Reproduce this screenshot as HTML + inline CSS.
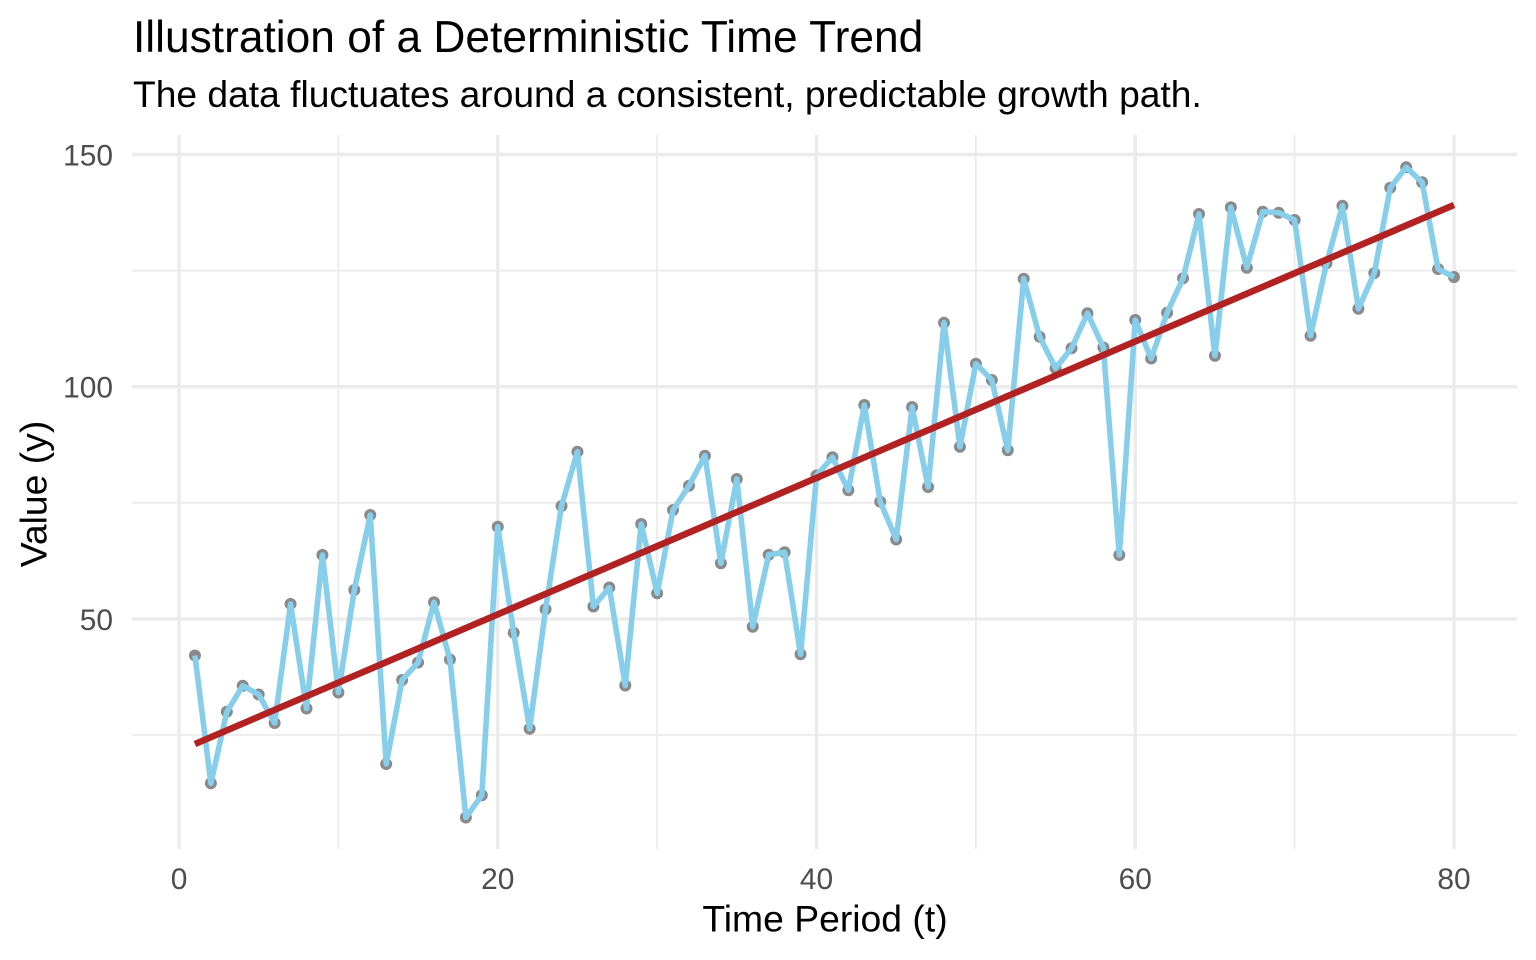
<!DOCTYPE html>
<html>
<head>
<meta charset="utf-8">
<style>
html,body{margin:0;padding:0;background:#fff;}
svg{display:block;}
text{font-family:"Liberation Sans",Arial,Helvetica,sans-serif;}
</style>
</head>
<body>
<svg width="1536" height="960" viewBox="0 0 1536 960" xmlns="http://www.w3.org/2000/svg">
<rect x="0" y="0" width="1536" height="960" fill="#ffffff"/>
<g stroke="#EBEBEB" stroke-width="1.8" fill="none">
<line x1="132" y1="270.6" x2="1517" y2="270.6"/>
<line x1="132" y1="502.8" x2="1517" y2="502.8"/>
<line x1="132" y1="735" x2="1517" y2="735"/>
<line x1="338.4" y1="135" x2="338.4" y2="849"/>
<line x1="657.1" y1="135" x2="657.1" y2="849"/>
<line x1="975.9" y1="135" x2="975.9" y2="849"/>
<line x1="1294.6" y1="135" x2="1294.6" y2="849"/>
</g>
<g stroke="#EBEBEB" stroke-width="3.4" fill="none">
<line x1="132" y1="154.5" x2="1517" y2="154.5"/>
<line x1="132" y1="386.7" x2="1517" y2="386.7"/>
<line x1="132" y1="618.9" x2="1517" y2="618.9"/>
<line x1="179" y1="135" x2="179" y2="849"/>
<line x1="497.75" y1="135" x2="497.75" y2="849"/>
<line x1="816.5" y1="135" x2="816.5" y2="849"/>
<line x1="1135.25" y1="135" x2="1135.25" y2="849"/>
<line x1="1454" y1="135" x2="1454" y2="849"/>
</g>
<g fill="#8A8A8A">
<circle cx="194.94" cy="655.5" r="6"/>
<circle cx="210.88" cy="783.3" r="6"/>
<circle cx="226.81" cy="711.8" r="6"/>
<circle cx="242.75" cy="685.8" r="6"/>
<circle cx="258.69" cy="694.5" r="6"/>
<circle cx="274.63" cy="723" r="6"/>
<circle cx="290.56" cy="604" r="6"/>
<circle cx="306.5" cy="708.5" r="6"/>
<circle cx="322.44" cy="555" r="6"/>
<circle cx="338.38" cy="692.5" r="6"/>
<circle cx="354.31" cy="590" r="6"/>
<circle cx="370.25" cy="515" r="6"/>
<circle cx="386.19" cy="764" r="6"/>
<circle cx="402.13" cy="680" r="6"/>
<circle cx="418.06" cy="662.5" r="6"/>
<circle cx="434" cy="602.3" r="6"/>
<circle cx="449.94" cy="659.5" r="6"/>
<circle cx="465.88" cy="817.5" r="6"/>
<circle cx="481.81" cy="795.3" r="6"/>
<circle cx="497.75" cy="526.7" r="6"/>
<circle cx="513.69" cy="632.8" r="6"/>
<circle cx="529.63" cy="728.7" r="6"/>
<circle cx="545.56" cy="609.3" r="6"/>
<circle cx="561.5" cy="506" r="6"/>
<circle cx="577.44" cy="451.7" r="6"/>
<circle cx="593.38" cy="606.5" r="6"/>
<circle cx="609.31" cy="587.5" r="6"/>
<circle cx="625.25" cy="685.5" r="6"/>
<circle cx="641.19" cy="524" r="6"/>
<circle cx="657.13" cy="593.3" r="6"/>
<circle cx="673.06" cy="510" r="6"/>
<circle cx="689" cy="485.7" r="6"/>
<circle cx="704.94" cy="455.7" r="6"/>
<circle cx="720.88" cy="563.3" r="6"/>
<circle cx="736.81" cy="479" r="6"/>
<circle cx="752.75" cy="626.7" r="6"/>
<circle cx="768.69" cy="554.7" r="6"/>
<circle cx="784.63" cy="552.3" r="6"/>
<circle cx="800.56" cy="654.3" r="6"/>
<circle cx="816.5" cy="475.5" r="6"/>
<circle cx="832.44" cy="457.3" r="6"/>
<circle cx="848.38" cy="490.2" r="6"/>
<circle cx="864.31" cy="405" r="6"/>
<circle cx="880.25" cy="501.7" r="6"/>
<circle cx="896.19" cy="539.5" r="6"/>
<circle cx="912.13" cy="407" r="6"/>
<circle cx="928.06" cy="487" r="6"/>
<circle cx="944" cy="322.7" r="6"/>
<circle cx="959.94" cy="446.7" r="6"/>
<circle cx="975.88" cy="363.7" r="6"/>
<circle cx="991.81" cy="380" r="6"/>
<circle cx="1007.75" cy="450.3" r="6"/>
<circle cx="1023.69" cy="278.7" r="6"/>
<circle cx="1039.63" cy="336.7" r="6"/>
<circle cx="1055.56" cy="368.3" r="6"/>
<circle cx="1071.5" cy="348.3" r="6"/>
<circle cx="1087.44" cy="313.3" r="6"/>
<circle cx="1103.38" cy="347.5" r="6"/>
<circle cx="1119.31" cy="555" r="6"/>
<circle cx="1135.25" cy="320" r="6"/>
<circle cx="1151.19" cy="358.5" r="6"/>
<circle cx="1167.13" cy="312.7" r="6"/>
<circle cx="1183.06" cy="278.3" r="6"/>
<circle cx="1199" cy="214" r="6"/>
<circle cx="1214.94" cy="355.7" r="6"/>
<circle cx="1230.88" cy="207.3" r="6"/>
<circle cx="1246.81" cy="267.7" r="6"/>
<circle cx="1262.75" cy="211.7" r="6"/>
<circle cx="1278.69" cy="212.7" r="6"/>
<circle cx="1294.63" cy="220" r="6"/>
<circle cx="1310.56" cy="335.7" r="6"/>
<circle cx="1326.5" cy="263.3" r="6"/>
<circle cx="1342.44" cy="205.7" r="6"/>
<circle cx="1358.38" cy="308.7" r="6"/>
<circle cx="1374.31" cy="273" r="6"/>
<circle cx="1390.25" cy="187.7" r="6"/>
<circle cx="1406.19" cy="167.3" r="6"/>
<circle cx="1422.13" cy="182.3" r="6"/>
<circle cx="1438.06" cy="269" r="6"/>
<circle cx="1454" cy="277" r="6"/>
</g>
<polyline fill="none" stroke="#87CEEB" stroke-width="5.6" stroke-linejoin="round" stroke-linecap="butt" points="194.94,655.5 210.88,783.3 226.81,711.8 242.75,685.8 258.69,694.5 274.63,723 290.56,604 306.5,708.5 322.44,555 338.38,692.5 354.31,590 370.25,515 386.19,764 402.13,680 418.06,662.5 434,602.3 449.94,659.5 465.88,817.5 481.81,795.3 497.75,526.7 513.69,632.8 529.63,728.7 545.56,609.3 561.5,506 577.44,451.7 593.38,606.5 609.31,587.5 625.25,685.5 641.19,524 657.13,593.3 673.06,510 689,485.7 704.94,455.7 720.88,563.3 736.81,479 752.75,626.7 768.69,554.7 784.63,552.3 800.56,654.3 816.5,475.5 832.44,457.3 848.38,490.2 864.31,405 880.25,501.7 896.19,539.5 912.13,407 928.06,487 944,322.7 959.94,446.7 975.88,363.7 991.81,380 1007.75,450.3 1023.69,278.7 1039.63,336.7 1055.56,368.3 1071.5,348.3 1087.44,313.3 1103.38,347.5 1119.31,555 1135.25,320 1151.19,358.5 1167.13,312.7 1183.06,278.3 1199,214 1214.94,355.7 1230.88,207.3 1246.81,267.7 1262.75,211.7 1278.69,212.7 1294.63,220 1310.56,335.7 1326.5,263.3 1342.44,205.7 1358.38,308.7 1374.31,273 1390.25,187.7 1406.19,167.3 1422.13,182.3 1438.06,269 1454,277"/>
<line x1="194.94" y1="744" x2="1454" y2="205" stroke="#B22222" stroke-width="6.6" stroke-linecap="butt"/>
<g font-size="29.9" fill="#4D4D4D" text-anchor="end">
<text x="113" y="165.5">150</text>
<text x="113" y="397.7">100</text>
<text x="113" y="629.9">50</text>
</g>
<g font-size="29.9" fill="#4D4D4D" text-anchor="middle">
<text x="179" y="889">0</text>
<text x="497.75" y="889">20</text>
<text x="816.5" y="889">40</text>
<text x="1135.25" y="889">60</text>
<text x="1454" y="889">80</text>
</g>
<text x="825" y="931.5" font-size="37.3" fill="#000" text-anchor="middle">Time Period (t)</text>
<text transform="translate(46.5,494) rotate(-90)" font-size="37.3" fill="#000" text-anchor="middle">Value (y)</text>
<text x="133" y="52" font-size="44.3" fill="#000">Illustration of a Deterministic Time Trend</text>
<text x="133" y="107" font-size="37.2" fill="#000">The data fluctuates around a consistent, predictable growth path.</text>
</svg>
</body>
</html>
